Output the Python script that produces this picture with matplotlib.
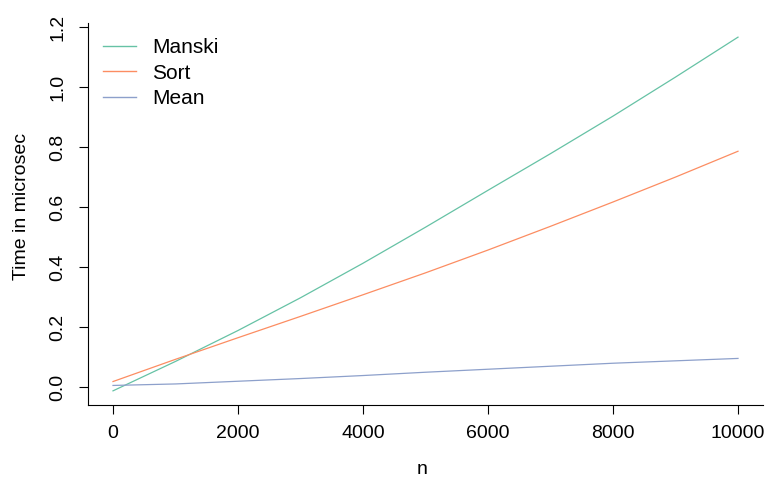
import numpy as np
import matplotlib
matplotlib.use("Agg")
import matplotlib.pyplot as plt

plt.rcParams['font.family'] = ['Liberation Sans', 'DejaVu Sans']

# timings (microseconds) by sample size
n = [0, 1000, 2000, 3000, 4000, 5000, 6000, 7000, 8000, 9000, 10000]
manski = [-0.012, 0.086, 0.189, 0.298, 0.413, 0.533, 0.656, 0.778, 0.903, 1.033, 1.166]
sort_t = [0.019, 0.093, 0.165, 0.236, 0.308, 0.381, 0.457, 0.536, 0.617, 0.700, 0.786]
mean_t = [0.006, 0.011, 0.020, 0.029, 0.039, 0.050, 0.060, 0.070, 0.080, 0.088, 0.096]

cols = ['#66C2A5', '#FC8D62', '#8DA0CB']

fig = plt.figure(figsize=(7.68, 4.8), dpi=100)
ax = fig.add_axes([88/768, 1 - 405/480, 675/768, 382/480])

ax.plot(n, manski, color=cols[0], lw=0.9, label='Manski')
ax.plot(n, sort_t, color=cols[1], lw=0.9, label='Sort')
ax.plot(n, mean_t, color=cols[2], lw=0.9, label='Mean')

# R-style axis limits (4% extension)
xr = 10000
ax.set_xlim(-0.04 * xr, 1.04 * xr)
ymin, ymax = min(manski), max(manski)
yr = ymax - ymin
ax.set_ylim(ymin - 0.04 * yr, ymax + 0.04 * yr)

ax.set_xticks([0, 2000, 4000, 6000, 8000, 10000])
ax.set_yticks([0.0, 0.2, 0.4, 0.6, 0.8, 1.0, 1.2])
ax.set_yticklabels(['0.0', '0.2', '0.4', '0.6', '0.8', '1.0', '1.2'], rotation=90, va='center')

for s in ['top', 'right']:
    ax.spines[s].set_visible(False)
for s in ['left', 'bottom']:
    ax.spines[s].set_linewidth(0.8)

ax.tick_params(direction='out', length=6.5, width=0.8, labelsize=14, pad=8)
ax.tick_params(axis='y', pad=9)

fig.text(422/768, 1 - 469/480, 'n', ha='center', va='center', fontsize=14)
fig.text(22/768, 1 - 207/480, 'Time in microsec', ha='center', va='center',
         rotation=90, fontsize=14)

leg = ax.legend(loc='upper left', bbox_to_anchor=(103/768, 1 - 38/480),
                bbox_transform=fig.transFigure, frameon=False, fontsize=15,
                handlelength=1.6, handletextpad=0.77, labelspacing=0.32,
                borderpad=0, borderaxespad=0)
for line in leg.get_lines():
    line.set_linewidth(1.0)

fig.savefig('out.png', dpi=100)
